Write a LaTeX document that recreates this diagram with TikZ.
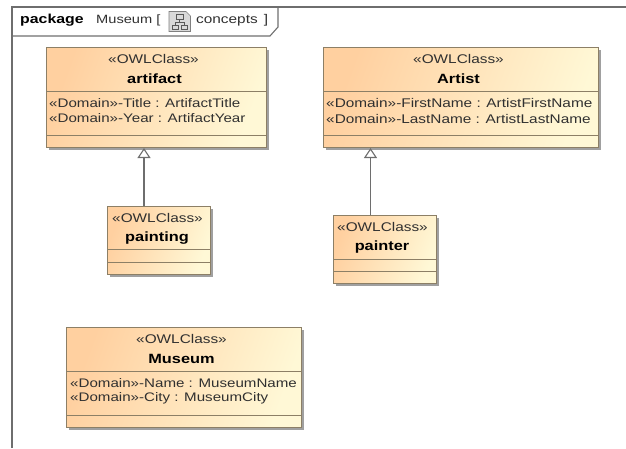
\documentclass[tikz,border=0pt]{standalone}
\usepackage{fontspec}
\setmainfont[FakeStretch=1.22]{Liberation Sans}
\usetikzlibrary{arrows.meta,shadows}
\definecolor{warm}{HTML}{FFD0A0}
\definecolor{cream}{HTML}{FFF8D6}
\definecolor{edge}{HTML}{8C7F66}
\definecolor{shade}{HTML}{A0A0A0}
\definecolor{ink}{HTML}{303030}
\definecolor{framec}{HTML}{6E6E6E}
\tikzset{
  classbox/.style={draw=edge,line width=1pt,inner sep=0pt,anchor=north west,
    left color=warm,right color=cream,shading angle=70,
    general shadow={shadow xshift=2.5pt,shadow yshift=-2.5pt,fill=shade}},
  divider/.style={draw=edge,line width=0.9pt},
  stereo/.style={font=\fontsize{12.6}{14}\selectfont,text=ink,inner sep=0pt},
  title/.style={font=\fontsize{13.4}{15}\selectfont\bfseries,text=black,inner sep=0pt},
  attr/.style={font=\fontsize{12.4}{14}\selectfont,text=ink,inner sep=0pt,anchor=west},
  attrwide/.style={attr,font=\fontsize{12.6}{14}\selectfont},
  gen/.style={draw=framec,line width=1.4pt,-{Triangle[open,fill=white,length=10pt,width=13pt,line width=1.1pt]}},
  framel/.style={draw=framec,line width=1.1pt},
  tabtext/.style={font=\fontsize{12.6}{14}\selectfont,text=ink,inner sep=0pt,anchor=west}
}
% name, x, y, w, h, d1, d2
\newcommand{\classbox}[7]{%
  \node[classbox,minimum width=#4pt,minimum height=#5pt] (#1) at (#2,#3) {};
  \draw[divider] ([yshift=-#6pt]#1.north west) -- ([yshift=-#6pt]#1.north east);
  \draw[divider] ([yshift=-#7pt]#1.north west) -- ([yshift=-#7pt]#1.north east);
}
\begin{document}
\begin{tikzpicture}[x=1pt,y=-1pt]
\useasboundingbox (0,0) rectangle (626,448);
% frame
\draw[framel] (12,448) -- (12,7) -- (626,7);
\draw[framel] (12,36) -- (270,36) -- (278,27) -- (278,7);
\node[tabtext,font=\fontsize{13}{14}\selectfont\bfseries,text=black] (kw) at (20,20) {package};
\node[tabtext,font=\fontsize{12}{14}\selectfont] (pk) at (96,20) {Museum [};
\node[tabtext] (dn) at (196,20) {concepts\hspace{2pt} ]};
% icon
\draw[draw=gray,fill=black!15,line width=0.7pt] (169,11.5) -- (186,11.5) -- (190.5,16) -- (190.5,31.5) -- (169,31.5) -- cycle;
\draw[draw=black!65,line width=0.7pt] (176,14.5) rectangle (183,19.5) (172,25) rectangle (178,29.5) (181,25) rectangle (187,29.5)
  (179.5,19.5) -- (179.5,22.5) (175,25) -- (175,22.5) -- (184,22.5) -- (184,25);
% classes
\classbox{artifact}{46}{47}{220}{100}{44}{88}
\classbox{artist}{323}{47}{275}{100}{44}{88}
\classbox{painting}{107}{206}{103}{68}{43}{56}
\classbox{painter}{333}{215}{103}{68}{44}{56}
\classbox{museum}{66}{327}{235}{100}{44}{88}
% texts
\node[stereo] (t1) at (153.5,59) {«OWLClass»};
\node[title] (t2) at (154.5,79) {artifact};
\node[attr] (t3) at (49,103) {«Domain»-Title : ArtifactTitle};
\node[attr] (t4) at (49,118.5) {«Domain»-Year : ArtifactYear};
\node[stereo] (a1) at (458.5,59) {«OWLClass»};
\node[title] (a2) at (458.5,79) {Artist};
\node[attrwide] (a3) at (326,103) {«Domain»-FirstName : ArtistFirstName};
\node[attrwide] (a4) at (326,118.5) {«Domain»-LastName : ArtistLastName};
\node[stereo] (p1) at (157.5,218) {«OWLClass»};
\node[title] (p2) at (157,238) {painting};
\node[stereo] (q1) at (382.5,227) {«OWLClass»};
\node[title] (q2) at (382,247) {painter};
\node[stereo] (m1) at (181.5,339) {«OWLClass»};
\node[title] (m2) at (181.5,359) {Museum};
\node[attr] (m3) at (70,383) {«Domain»-Name : MuseumName};
\node[attr] (m4) at (70,398.5) {«Domain»-City : MuseumCity};
% generalizations
\draw[gen] ([xshift=-15pt]painting.north) -- ([xshift=-12.5pt]artifact.south);
\draw[gen] ([xshift=-14.5pt]painter.north) -- ([xshift=-90.5pt]artist.south);
\end{tikzpicture}
\end{document}
